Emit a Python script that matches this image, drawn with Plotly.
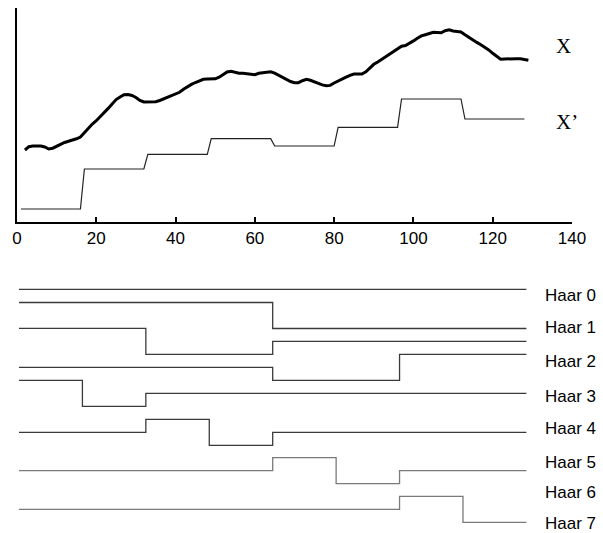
import plotly.graph_objects as go

# ---------------- data ----------------
# Signal X (samples 2..129) (arbitrary units)
X_T = list(range(2, 130))
X_VALUES = [
    72, 75.3, 76, 76, 76, 75, 73, 73.8, 75.8, 77.8, 79.5, 80.8, 81.8, 83.2, 85,
    89.5, 94.4, 98, 101.3, 105.2, 109, 113.6, 118.1, 122.4, 125, 127.2, 127.5, 126.5, 124.5, 121.6, 120,
    120, 120.2, 120.3, 121.5, 123.1, 124.8, 126.3, 127.8, 129.7, 132.7, 135.4, 137.6, 139.5, 141.3, 142.7, 142.9,
    143, 143.2, 144.8, 147.4, 150, 150.8, 149.8, 148.7, 148.7, 148, 147.3, 147.3, 148.7, 149.2, 149.8, 150.2,
    148.8, 146.8, 144, 142, 140.5, 139.3, 139.3, 141.3, 142.6, 141.7, 140, 138.5, 137.1, 136.2, 136.6, 139,
    141.2, 142.9, 144.8, 146.7, 148, 148, 148, 150.2, 154.2, 157.7, 160, 162.7, 165, 167.2, 170, 172.8,
    175.8, 176.5, 178.4, 181.1, 183.7, 186.1, 187.3, 188.4, 189.7, 189.6, 189.2, 191.3, 192.1, 191, 190.6, 190,
    187.3, 184.5, 181.5, 179.6, 177.2, 174.8, 172.1, 168.7, 165.4, 162.8, 163, 163.3, 163.3, 163.3, 163.3, 162.8,
    161.7,
]

# Approximation X' : one level per block of 16 samples
BLOCK = 16
XP_LEVELS = [13, 53, 67.7, 83.3, 76, 94.7, 123, 103]

# Haar basis patterns (one value per block of 16 samples)
HAAR_NAMES = ["Haar 0", "Haar 1", "Haar 2", "Haar 3", "Haar 4", "Haar 5", "Haar 6", "Haar 7"]
HAAR_PATTERNS = [
    [1, 1, 1, 1, 1, 1, 1, 1],
    [1, 1, 1, 1, -1, -1, -1, -1],
    [1, 1, -1, -1, 0, 0, 0, 0],
    [0, 0, 0, 0, -1, -1, 1, 1],
    [1, -1, 0, 0, 0, 0, 0, 0],
    [0, 0, 1, -1, 0, 0, 0, 0],
    [0, 0, 0, 0, 1, -1, 0, 0],
    [0, 0, 0, 0, 0, 0, 1, -1],
]

X_TICKS = [0, 20, 40, 60, 80, 100, 120, 140]

# ---------------- layout constants (pixels) ----------------
W, H = 603, 533
AX_LEFT, AX_RIGHT = 17, 572
AX_TOP, AX_BOTTOM = 8, 222
HAAR_BASE_PX = [302.3, 315.5, 341.3, 367.3, 393.3, 432.3, 470.7, 509.3]
HAAR_AMP_PX = 13
HAAR_LABEL_PX = [295, 327.5, 361.7, 396, 428, 462, 492.5, 523.7]
HAAR_COLORS = ["#3a3a3a"] * 6 + ["#7a7a7a"] * 2

fig = go.Figure()

fig.add_trace(go.Scatter(x=X_T, y=X_VALUES, mode="lines",
                         line=dict(color="black", width=3), xaxis="x", yaxis="y",
                         showlegend=False, hoverinfo="skip"))

xp_t = list(range(1, BLOCK * len(XP_LEVELS) + 1))
xp_v = [lvl for lvl in XP_LEVELS for _ in range(BLOCK)]
fig.add_trace(go.Scatter(x=xp_t, y=xp_v, mode="lines",
                         line=dict(color="#222222", width=1.2), xaxis="x", yaxis="y",
                         showlegend=False, hoverinfo="skip"))

edges = [0.5 + BLOCK * k for k in range(len(XP_LEVELS) + 1)]
for pat, base, col in zip(HAAR_PATTERNS, HAAR_BASE_PX, HAAR_COLORS):
    ys = [-(base) + HAAR_AMP_PX * p for p in pat]
    ys = ys + [ys[-1]]
    fig.add_trace(go.Scatter(x=edges, y=ys, mode="lines", line_shape="hv",
                             line=dict(color=col, width=1.3), xaxis="x", yaxis="y2",
                             showlegend=False, hoverinfo="skip"))

annotations = []
for name, ypx in zip(HAAR_NAMES, HAAR_LABEL_PX):
    annotations.append(dict(x=543 / W, y=1 - ypx / H, xref="paper", yref="paper",
                            text=name, showarrow=False, xanchor="left", yanchor="middle",
                            font=dict(family="Liberation Sans, Arial", size=17, color="black")))
annotations.append(dict(x=554 / W, y=1 - 46.3 / H, xref="paper", yref="paper", text="X",
                        showarrow=False, xanchor="left", yanchor="middle",
                        font=dict(family="Liberation Serif, Times New Roman", size=21, color="black")))
annotations.append(dict(x=554 / W, y=1 - 121.7 / H, xref="paper", yref="paper", text="X\u2019",
                        showarrow=False, xanchor="left", yanchor="middle",
                        font=dict(family="Liberation Serif, Times New Roman", size=21, color="black")))

fig.update_layout(
    width=W, height=H, margin=dict(l=0, r=0, t=0, b=0, autoexpand=False),
    paper_bgcolor="white", plot_bgcolor="white", showlegend=False,
    xaxis=dict(domain=[AX_LEFT / W, AX_RIGHT / W], range=[0, 140], tickvals=X_TICKS,
               ticks="inside", ticklen=5, tickwidth=1.5, tickcolor="black",
               showline=True, linecolor="black", linewidth=1.5, automargin=False,
               showgrid=False, zeroline=False, anchor="y",
               tickfont=dict(family="Liberation Sans, Arial", size=17, color="black")),
    yaxis=dict(domain=[1 - AX_BOTTOM / H, 1 - AX_TOP / H], range=[0, AX_BOTTOM - AX_TOP],
               showline=True, linecolor="black", linewidth=2, ticks="", automargin=False,
               showticklabels=False, showgrid=False, zeroline=False, anchor="x"),
    yaxis2=dict(domain=[0, 0.5], range=[-H, -H / 2], visible=False, anchor="x",
                automargin=False, showgrid=False, zeroline=False),
    annotations=annotations,
)

fig.write_html("out.html")
